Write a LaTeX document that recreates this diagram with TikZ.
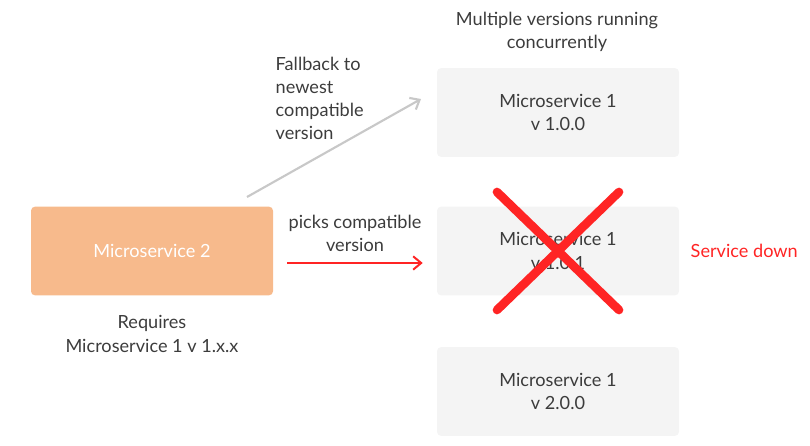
\documentclass[tikz,border=0pt]{standalone}
\usepackage{fontspec}
\setmainfont{Lato}
\usepackage{xcolor}
\usepackage{tikz}
\usetikzlibrary{arrows.meta,positioning,calc}

\definecolor{msorange}{HTML}{F7BA8C}
\definecolor{msgrey}{HTML}{F4F4F4}
\definecolor{mstext}{HTML}{3C3C3C}
\definecolor{msred}{HTML}{FF2424}
\definecolor{fbgrey}{HTML}{C8C8C8}

\begin{document}
\begin{tikzpicture}[
    x=0.75pt, y=-0.75pt,
    txt/.style={text=mstext, align=center, font={\fontsize{13.6}{17.4}\selectfont}},
    service/.style={rectangle, fill=msgrey, minimum width=181.5pt, minimum height=66.5pt, rounded corners=3pt, txt},
    caller/.style={service, fill=msorange, text=white},
    fallback/.style={-{Straight Barb[length=6pt,width=10pt]}, line width=1.6pt, fbgrey},
    picks/.style={-{Straight Barb[length=6pt,width=10pt]}, line width=1.5pt, msred},
    cross/.style={line width=6.5pt, msred, line cap=round}
]
    \useasboundingbox (0,0) rectangle (810,446);

    % Calling service
    \node[caller] (ms2) at (152,251) {Microservice 2};
    \node[txt] (req) at (152,334) {Requires\\Microservice 1 v 1.x.x};

    % Running versions
    \node[txt] (multi) at (557,32) {Multiple versions running\\concurrently};
    \node[service] (v100) at (558,112.5) {Microservice 1\\v 1.0.0};
    \node[service] (v101) at (558,251) {Microservice 1\\v 1.0.1};
    \node[service] (v200) at (558,391.5) {Microservice 1\\v 2.0.0};

    % Fallback path
    \coordinate (fbstart) at (247,197);
    \coordinate (fbend) at (421,99);
    \draw[fallback] (fbstart) -- (fbend);
    \node[txt, align=left, anchor=north west] (fbtext) at (271,52) {Fallback to\\newest\\compatible\\version};

    % Picked version
    \draw[picks] ($(ms2.east)+(14,12)$) -- ($(v101.west)+(-14,12)$);
    \node[txt] (pickstext) at (355,233.5) {picks compatible\\version};

    % Version down
    \draw[cross] ($(v101.center)+(-61,-59)$) -- ($(v101.center)+(61,59)$);
    \draw[cross] ($(v101.center)+(61,-59)$) -- ($(v101.center)+(-61,59)$);
    \node[txt, text=msred, anchor=west] (down) at (686,251) {Service down};
\end{tikzpicture}
\end{document}
